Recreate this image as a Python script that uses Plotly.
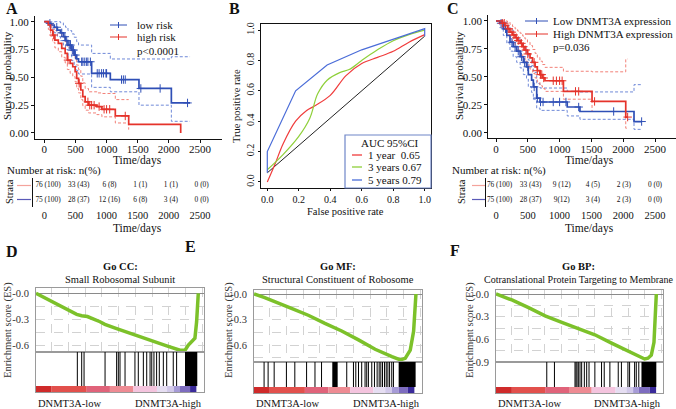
import plotly.graph_objects as go
import numpy as np

W, H = 676, 409
SERIF = "Liberation Serif, DejaVu Serif, Times New Roman, serif"

# ================= DATA =================
# ---- Panel A: KM by risk group ----
A_low_t  = [0, 60, 110, 160, 210, 260, 306, 340, 380, 440, 480, 520, 550, 760, 1060, 1520, 2040, 2340]
A_low_s  = [1.0, 0.985, 0.97, 0.95, 0.925, 0.90, 0.865, 0.83, 0.79, 0.745, 0.70, 0.665, 0.64, 0.536, 0.48, 0.40, 0.27, 0.27]
A_low_up = [1.0, 1.0, 1.0, 1.0, 1.0, 0.99, 0.97, 0.95, 0.92, 0.89, 0.86, 0.82, 0.79, 0.715, 0.665, 0.665, 0.685, 0.685]
A_low_lo = [1.0, 0.96, 0.935, 0.90, 0.865, 0.83, 0.79, 0.75, 0.70, 0.65, 0.60, 0.56, 0.53, 0.41, 0.37, 0.25, 0.105, 0.105]
A_low_cens = [90, 200, 280, 330, 360, 400, 420, 450, 470, 500, 600, 620, 650, 680, 700, 740, 850, 880, 920, 950, 990, 1000, 1240, 1270, 1300, 1550, 1860, 2300]

A_high_t  = [0, 65, 100, 135, 170, 225, 280, 335, 370, 415, 457, 495, 520, 550, 586, 618, 656, 710, 844, 925, 1140, 1355, 2190]
A_high_s  = [1.0, 0.97, 0.925, 0.88, 0.835, 0.805, 0.76, 0.715, 0.655, 0.625, 0.595, 0.55, 0.49, 0.446, 0.386, 0.326, 0.28, 0.25, 0.237, 0.213, 0.153, 0.078, 0.0]
A_high_up = [1.0, 1.0, 0.985, 0.955, 0.92, 0.90, 0.86, 0.82, 0.77, 0.74, 0.71, 0.67, 0.61, 0.57, 0.51, 0.45, 0.40, 0.37, 0.36, 0.355, 0.30, 0.30, None]
A_high_lo = [1.0, 0.93, 0.87, 0.815, 0.765, 0.73, 0.68, 0.63, 0.57, 0.535, 0.505, 0.46, 0.40, 0.36, 0.30, 0.245, 0.205, 0.18, 0.165, 0.145, 0.09, 0.03, None]
A_high_cens = [150, 380, 560, 700, 730, 760, 800, 880, 960, 1000, 1050, 1300]

risk_times = [0, 500, 1000, 1500, 2000, 2500]
A_risk_high = ["76 (100)", "33 (43)", "6 (8)", "1 (1)", "1 (1)", "0 (0)"]
A_risk_low  = ["75 (100)", "28 (37)", "12 (16)", "6 (8)", "3 (4)", "0 (0)"]

# ---- Panel B: time-dependent ROC ----
B_fpr_1y = [0, 0.05, 0.1, 0.18, 0.25, 0.3, 0.4, 0.5, 0.6, 0.7, 0.8, 0.9, 1.0]
B_tpr_1y = [0.0, 0.12, 0.25, 0.40, 0.47, 0.50, 0.57, 0.70, 0.78, 0.82, 0.86, 0.92, 0.97]
B_fpr_3y = [0, 0.1, 0.2, 0.27, 0.32, 0.38, 0.46, 0.52, 0.6, 0.7, 0.8, 0.9, 1.0]
B_tpr_3y = [0.08, 0.18, 0.30, 0.42, 0.58, 0.67, 0.72, 0.74, 0.80, 0.87, 0.93, 0.97, 1.0]
B_fpr_5y = [0, 0, 0.18, 0.38, 0.6, 0.8, 1.0, 1.0]
B_tpr_5y = [0.06, 0.20, 0.60, 0.77, 0.87, 0.94, 1.01, 0.96]
B_ref_x = [0, 1.0]
B_ref_y = [0.06, 0.96]
B_legend = ["1 year\u00a0\u00a00.65", "3 years 0.67", "5 years 0.79"]

# ---- Panel C: KM by DNMT3A expression ----
C_low_t  = [0, 60, 115, 170, 220, 270, 325, 380, 430, 480, 508, 560, 587, 640, 692, 1120, 1320, 2170, 2290]
C_low_s  = [1.0, 0.98, 0.93, 0.87, 0.81, 0.77, 0.73, 0.68, 0.63, 0.59, 0.52, 0.47, 0.41, 0.31, 0.275, 0.23, 0.19, 0.10, 0.10]
C_low_up = [1.0, 1.0, 0.99, 0.96, 0.92, 0.88, 0.84, 0.80, 0.76, 0.71, 0.65, 0.60, 0.54, 0.44, 0.40, 0.37, 0.365, 0.43, 0.43]
C_low_lo = [1.0, 0.94, 0.87, 0.80, 0.73, 0.68, 0.63, 0.58, 0.52, 0.48, 0.41, 0.36, 0.30, 0.22, 0.20, 0.15, 0.12, 0.03, 0.03]
C_low_cens = [80, 150, 250, 300, 350, 400, 450, 500, 600, 650, 700, 740, 900, 1000, 1100, 1300, 1850, 2290]

C_high_t  = [0, 100, 140, 180, 220, 260, 300, 340, 380, 420, 455, 495, 535, 575, 615, 650, 690, 730, 770, 1060, 1510, 2040, 2070]
C_high_s  = [1.0, 0.98, 0.96, 0.93, 0.90, 0.875, 0.85, 0.825, 0.80, 0.77, 0.74, 0.705, 0.67, 0.63, 0.59, 0.555, 0.52, 0.49, 0.465, 0.37, 0.28, 0.14, 0.14]
C_high_up = [1.0, 1.0, 1.0, 0.99, 0.97, 0.95, 0.93, 0.91, 0.89, 0.865, 0.84, 0.81, 0.78, 0.745, 0.71, 0.675, 0.64, 0.61, 0.585, 0.55, 0.545, 0.66, 0.66]
C_high_lo = [1.0, 0.95, 0.92, 0.88, 0.84, 0.805, 0.77, 0.74, 0.71, 0.675, 0.64, 0.605, 0.57, 0.53, 0.49, 0.455, 0.42, 0.395, 0.37, 0.30, 0.19, 0.04, 0.04]
C_high_cens = [100, 130, 200, 250, 280, 320, 350, 400, 430, 470, 500, 600, 650, 700, 720, 750, 900, 950, 1000, 1040, 1250, 1300, 1550, 2070]

C_risk_high = ["76 (100)", "33 (43)", "9 (12)", "4 (5)", "2 (3)", "0 (0)"]
C_risk_low  = ["75 (100)", "28 (37)", "9(12)", "3 (4)", "2 (3)", "0 (0)"]

# ---- Panels D/E/F: GSEA running enrichment score ----
D_rank = [0, 0.242, 0.272, 0.306, 0.381, 0.41, 0.48, 0.579, 0.679, 0.778, 0.857, 0.887, 0.907, 0.927, 0.946, 0.956, 0.966]
D_es   = [0, -0.244, -0.26, -0.27, -0.33, -0.36, -0.41, -0.48, -0.54, -0.61, -0.66, -0.66, -0.60, -0.56, -0.52, -0.33, 0.0]
D_hits = [0.246, 0.272, 0.286, 0.411, 0.480, 0.490, 0.500, 0.530, 0.589, 0.609, 0.639, 0.659, 0.679, 0.689,
          0.702, 0.718, 0.734, 0.758, 0.778, 0.817, 0.837]
D_blocks = [(0.887, 0.960)]

E_rank = [0, 0.064, 0.223, 0.323, 0.422, 0.522, 0.622, 0.721, 0.821, 0.871, 0.90, 0.93, 0.95, 0.96, 0.964]
E_es   = [0, -0.043, -0.17, -0.25, -0.345, -0.435, -0.54, -0.65, -0.737, -0.776, -0.757, -0.66, -0.44, -0.17, 0.0]
E_hits = [0.06, 0.084, 0.12, 0.193, 0.243, 0.313, 0.363, 0.402, 0.552, 0.592, 0.606, 0.622, 0.641, 0.661,
          0.671, 0.681, 0.701, 0.717, 0.733, 0.745, 0.755, 0.765, 0.777, 0.787, 0.797, 0.807, 0.82, 0.83]
E_blocks = [(0.466, 0.498), (0.861, 0.962)]

F_rank = [0, 0.095, 0.195, 0.294, 0.394, 0.473, 0.533, 0.592, 0.692, 0.791, 0.851, 0.89, 0.91, 0.93, 0.946, 0.954, 0.96]
F_es   = [0, -0.079, -0.18, -0.29, -0.375, -0.44, -0.48, -0.54, -0.65, -0.76, -0.825, -0.86, -0.85, -0.81, -0.64, -0.28, 0.0]
F_hits = [0.304, 0.35, 0.473, 0.479, 0.485, 0.493, 0.503, 0.513, 0.529, 0.543, 0.557, 0.592, 0.632, 0.648,
          0.682, 0.732, 0.751, 0.79, 0.80, 0.83, 0.84, 0.855]
F_blocks = [(0.871, 0.96)]

GSEA_colors = ['#cf2a2a', '#e2504c', '#e0637a', '#ee8b93', '#f4c4de', '#e6def2', '#d2c9ea', '#a69bd6', '#7d6cbf', '#3a2a9a', '#ffffff']
D_bar_edges = [0, 0.093, 0.302, 0.44, 0.58, 0.72, 0.78, 0.82, 0.857, 0.917, 0.956, 1.0]
E_bar_edges = [0, 0.094, 0.303, 0.442, 0.572, 0.711, 0.781, 0.821, 0.861, 0.916, 0.956, 1.0]
F_bar_edges = [0, 0.095, 0.294, 0.437, 0.573, 0.716, 0.781, 0.821, 0.855, 0.92, 0.96, 1.0]

# ================= STYLE =================
BLUE, RED = '#2f4fb6', '#e5332b'
BLUE_CI, RED_CI = '#6f89d8', '#f28078'
GREEN = '#7cc12a'
INK = '#111111'


def xdom(a, b):
    return [a / W, b / W]


def ydom(top, bottom):
    return [1 - bottom / H, 1 - top / H]


def prange(p_left, p_right, p_zero, px_per_unit):
    """axis range so that value 0 sits at pixel p_zero on a domain spanning p_left..p_right"""
    return [-(p_zero - p_left) / px_per_unit, (p_right - p_zero) / px_per_unit]


fig = go.Figure()
layout_axes = {}


def add_axes(n, xd, yd, xkw, ykw):
    xk = 'xaxis' if n == 1 else f'xaxis{n}'
    yk = 'yaxis' if n == 1 else f'yaxis{n}'
    ax = 'x' if n == 1 else f'x{n}'
    ay = 'y' if n == 1 else f'y{n}'
    base = dict(showgrid=False, zeroline=False, automargin=False, fixedrange=True)
    layout_axes[xk] = {**base, 'domain': xd, 'anchor': ay, **xkw}
    layout_axes[yk] = {**base, 'domain': yd, 'anchor': ax, **ykw}


def add(tr, n, xname=None):
    xa = xname if xname else ('x' if n == 1 else f'x{n}')
    tr.update(xaxis=xa, yaxis=('y' if n == 1 else f'y{n}'), hoverinfo='skip')
    fig.add_trace(tr)


def step_lookup(ts, ss, times):
    ts = np.asarray(ts, float)
    out = []
    for t in times:
        i = int(np.searchsorted(ts, t, side='right')) - 1
        out.append(ss[max(i, 0)])
    return out


tickfont = dict(family=SERIF, size=11, color=INK)
table_tickfont = dict(family=SERIF, size=10.5, color=INK)
risk_font = dict(family=SERIF, size=7.4, color=INK)

# ---------- Panel A ----------
A_PX = (200 - 44.3) / 2500
a_x = dict(range=prange(35, 222, 44.3, A_PX), showline=True, linecolor=INK, linewidth=1, ticks='outside',
           ticklen=3, tickcolor=INK, tickvals=risk_times, tickfont=tickfont, ticklabelstandoff=-3)
add_axes(1, xdom(35, 222), ydom(16, 139), a_x,
         dict(range=[-0.054, 1.051], showline=True, linecolor=INK, linewidth=1, ticks='outside', ticklen=3,
              tickcolor=INK, tickvals=[0, 0.25, 0.5, 0.75, 1.0],
              ticktext=['0.00', '0.25', '0.50', '0.75', '1.00'], tickfont=tickfont))

for t, up, lo, col in [(A_low_t, A_low_up, A_low_lo, BLUE_CI), (A_high_t, A_high_up, A_high_lo, RED_CI)]:
    for band in (up, lo):
        add(go.Scatter(x=t, y=band, mode='lines', line=dict(color=col, width=1, dash='3px,2px', shape='hv')), 1)
for t, s, cens, col in [(A_low_t, A_low_s, A_low_cens, BLUE), (A_high_t, A_high_s, A_high_cens, RED)]:
    add(go.Scatter(x=t, y=s, mode='lines', line=dict(color=col, width=1.7, shape='hv')), 1)
    add(go.Scatter(x=cens, y=step_lookup(t, s, cens), mode='markers',
                   marker=dict(symbol='cross-thin', size=6, line=dict(color=col, width=1))), 1)

# risk table A (text axis + overlaid tick axis)
add_axes(2, xdom(33, 222), ydom(178, 207),
         dict(range=prange(33, 222, 48, (201.7 - 48) / 2500), showline=False, ticks='', showticklabels=False),
         dict(range=[0.5, 2.5], showline=True, linecolor=INK, linewidth=1, showticklabels=False, ticks=''))
layout_axes['xaxis12'] = dict(overlaying='x2', anchor='y2', range=prange(33, 222, 44.3, A_PX),
                              showline=False, ticks='', tickvals=risk_times, tickfont=table_tickfont,
                              showgrid=False, zeroline=False, automargin=False, fixedrange=True)
add(go.Scatter(x=risk_times, y=[2] * 6, mode='text', text=A_risk_high, textfont=risk_font), 2)
add(go.Scatter(x=risk_times, y=[1] * 6, mode='text', text=A_risk_low, textfont=risk_font), 2)
# invisible carrier trace so the overlaid tick axis is drawn
add(go.Scatter(x=risk_times, y=[0] * 6, mode='markers', marker=dict(opacity=0)), 2, xname='x12')

# ---------- Panel B ----------
b_common = dict(range=[-0.04, 1.04], showline=True, mirror=True, linecolor=INK, linewidth=1,
                ticks='outside', ticklen=2, tickcolor=INK, tickvals=[0, 0.2, 0.4, 0.6, 0.8, 1.0],
                ticktext=['0.0', '0.2', '0.4', '0.6', '0.8', '1.0'],
                tickfont=dict(family=SERIF, size=10, color=INK))
add_axes(3, xdom(261, 431), ydom(24, 188), dict(b_common), dict(b_common, tickangle=-90))
add(go.Scatter(x=B_ref_x, y=B_ref_y, mode='lines', line=dict(color='#222222', width=1)), 3)
add(go.Scatter(x=B_fpr_1y, y=B_tpr_1y, mode='lines', line=dict(color='#f03c3c', width=1.2, shape='spline')), 3)
add(go.Scatter(x=B_fpr_3y, y=B_tpr_3y, mode='lines', line=dict(color='#8fd03a', width=1.2, shape='spline')), 3)
add(go.Scatter(x=B_fpr_5y, y=B_tpr_5y, mode='lines', line=dict(color='#4a6cd8', width=1.2)), 3)

# ---------- Panel C ----------
C_PX = (655 - 496) / 2500
add_axes(4, xdom(488.3, 676), ydom(15.4, 138.3),
         dict(a_x, range=prange(488.3, 676, 496, C_PX)),
         dict(range=[-0.05, 1.05], showline=True, linecolor=INK, linewidth=1, ticks='outside', ticklen=3,
              tickcolor=INK, tickvals=[0, 0.25, 0.5, 0.75, 1.0],
              ticktext=['0.00', '0.25', '0.50', '0.75', '1.00'], tickfont=tickfont))
for t, up, lo, col in [(C_low_t, C_low_up, C_low_lo, BLUE_CI), (C_high_t, C_high_up, C_high_lo, RED_CI)]:
    for band in (up, lo):
        add(go.Scatter(x=t, y=band, mode='lines', line=dict(color=col, width=1, dash='3px,2px', shape='hv')), 4)
for t, s, cens, col in [(C_low_t, C_low_s, C_low_cens, BLUE), (C_high_t, C_high_s, C_high_cens, RED)]:
    add(go.Scatter(x=t, y=s, mode='lines', line=dict(color=col, width=1.7, shape='hv')), 4)
    add(go.Scatter(x=cens, y=step_lookup(t, s, cens), mode='markers',
                   marker=dict(symbol='cross-thin', size=6, line=dict(color=col, width=1))), 4)

add_axes(5, xdom(486, 676), ydom(178, 207),
         dict(range=prange(486, 676, 499.5, (655 - 499.5) / 2500), showline=False, ticks='', showticklabels=False),
         dict(range=[0.5, 2.5], showline=True, linecolor=INK, linewidth=1, showticklabels=False, ticks=''))
layout_axes['xaxis13'] = dict(overlaying='x5', anchor='y5', range=prange(486, 676, 496, C_PX),
                              showline=False, ticks='', tickvals=risk_times, tickfont=table_tickfont,
                              showgrid=False, zeroline=False, automargin=False, fixedrange=True)
add(go.Scatter(x=risk_times, y=[2] * 6, mode='text', text=C_risk_high, textfont=risk_font), 5)
add(go.Scatter(x=risk_times, y=[1] * 6, mode='text', text=C_risk_low, textfont=risk_font), 5)
add(go.Scatter(x=risk_times, y=[0] * 6, mode='markers', marker=dict(opacity=0)), 5, xname='x13')

# ---------- Panels D/E/F ----------
GRID = '#d2d2d2'
FRAME = '#9a9a9a'
es_font = dict(family=SERIF, size=10.5, color='#333333')


def gsea_panel(n_es, n_hit, x0, x1, es_top, es_bot, bar_bot, yrange, yt, ytt,
               rank, es, hits, blocks, edges, bar_px=6):
    xd = xdom(x0, x1)
    add_axes(n_es, xd, ydom(es_top, es_bot),
             dict(range=[0, 1], showline=True, mirror=True, linecolor=FRAME, linewidth=1,
                  showgrid=True, gridcolor=GRID, griddash='dash', gridwidth=1,
                  tick0=0.094, dtick=0.0995, showticklabels=False, ticks=''),
             dict(range=yrange, showline=True, mirror=True, linecolor=FRAME, linewidth=1,
                  showgrid=True, gridcolor=GRID, griddash='dash', gridwidth=1,
                  zeroline=True, zerolinecolor='#8a8a8a', zerolinewidth=1,
                  tickvals=yt, ticktext=ytt, ticks='', ticklabelstandoff=4, tickfont=es_font))
    add_axes(n_hit, xd, ydom(es_bot, bar_bot),
             dict(range=[0, 1], showline=True, mirror=True, linecolor=FRAME, linewidth=1,
                  showticklabels=False, ticks=''),
             dict(range=[0, 1], showline=True, mirror=True, linecolor=FRAME, linewidth=1,
                  showticklabels=False, ticks=''))
    bar_top = bar_px / (bar_bot - es_bot)
    add(go.Scatter(x=rank, y=es, mode='lines', line=dict(color=GREEN, width=3.5)), n_es)
    hx, hy = [], []
    for h in hits:
        hx += [h, h, None]
        hy += [bar_top, 1, None]
    add(go.Scatter(x=hx, y=hy, mode='lines', line=dict(color='black', width=1)), n_hit)
    add(go.Bar(x=[(a + b) / 2 for a, b in blocks], width=[b - a for a, b in blocks],
               y=[1 - bar_top] * len(blocks), base=[bar_top] * len(blocks),
               marker=dict(color='black', line=dict(width=0))), n_hit)
    mids = [(edges[i] + edges[i + 1]) / 2 for i in range(len(edges) - 1)]
    wids = [edges[i + 1] - edges[i] for i in range(len(edges) - 1)]
    add(go.Bar(x=mids, width=wids, y=[bar_top] * len(mids), base=[0] * len(mids),
               marker=dict(color=GSEA_colors, line=dict(width=0))), n_hit)


gsea_panel(6, 7, 36, 204, 288, 352, 392, [-0.681, 0.0615],
           [0, -0.15, -0.3, -0.45, -0.6], ['-0.0', '', '-0.3', '', '-0.6'],
           D_rank, D_es, D_hits, D_blocks, D_bar_edges)
gsea_panel(8, 9, 254, 422, 290, 362, 393, [-0.80, 0.047],
           [0, -0.15, -0.3, -0.45, -0.6, -0.75], ['-0.0', '', '-0.3', '', '-0.6', ''],
           E_rank, E_es, E_hits, E_blocks, E_bar_edges)
gsea_panel(10, 11, 496, 663, 290, 362, 393, [-0.9, 0.053],
           [0, -0.15, -0.3, -0.45, -0.6, -0.75, -0.9], ['-0.0', '', '-0.3', '', '-0.6', '', '-0.9'],
           F_rank, F_es, F_hits, F_blocks, F_bar_edges)

# ================= ANNOTATIONS & SHAPES =================
ann = []
shapes = []


def txt(x, y, s, size=11, xa='center', angle=0, color=INK):
    ann.append(dict(x=x / W, y=1 - y / H, xref='paper', yref='paper', text=s, showarrow=False,
                    xanchor=xa, yanchor='middle', textangle=angle,
                    font=dict(family=SERIF, size=size, color=color)))


def seg(x0, y0, x1, y1, color, width=1):
    shapes.append(dict(type='line', xref='paper', yref='paper', x0=x0 / W, y0=1 - y0 / H,
                       x1=x1 / W, y1=1 - y1 / H, line=dict(color=color, width=width)))


# panel letters
txt(12, 8.5, '<b>A</b>', 16)
txt(234, 8.5, '<b>B</b>', 16)
txt(453, 8.5, '<b>C</b>', 16)
txt(12, 251, '<b>D</b>', 16)
txt(190, 247, '<b>E</b>', 16)
txt(455, 250, '<b>F</b>', 16)

# A texts
txt(7, 76, 'Survival probability', 11, angle=-90)
txt(137, 160, 'Time/days', 11.5)
txt(5, 170, 'Number at risk: n(%)', 11, xa='left')
txt(10, 192, 'Strata', 10.5, angle=-90)
seg(17, 185.5, 31, 185.5, '#f4a39c', 1.2)
seg(17, 199.5, 31, 199.5, '#5a5ab8', 1.2)
txt(137, 228, 'Time/days', 11.5)
seg(110, 25, 127, 25, BLUE, 1)
seg(118.5, 22, 118.5, 28, BLUE, 1)
seg(110, 37, 127, 37, RED, 1)
seg(118.5, 34, 118.5, 40, RED, 1)
txt(135, 25, 'low risk', 11, xa='left')
txt(135, 37.5, 'high risk', 11, xa='left')
txt(135, 51, 'p&lt;0.0001', 11, xa='left')

# B texts
txt(237, 106, 'True positive rate', 10.5, angle=-90)
txt(346, 212, 'False positive rate', 10.5)
shapes.append(dict(type='rect', xref='paper', yref='paper', x0=345 / W, x1=431 / W,
                   y0=1 - 188 / H, y1=1 - 135 / H, line=dict(color='#6f86c8', width=1.2),
                   fillcolor='rgba(255,255,255,0)'))
txt(390, 143.5, 'AUC 95%CI', 11)
for yy, col, lab in [(155, '#f03c3c', B_legend[0]), (167, '#8fd03a', B_legend[1]), (180, '#4a6cd8', B_legend[2])]:
    seg(352, yy, 362, yy, col, 1.3)
    txt(366, yy, lab, 11, xa='left')

# C texts
txt(459, 76, 'Survival probability', 11, angle=-90)
txt(589, 160, 'Time/days', 11.5)
txt(450, 170, 'Number at risk: n(%)', 11, xa='left')
txt(462, 192, 'Strata', 10.5, angle=-90)
seg(472, 185.5, 485, 185.5, '#f4a39c', 1.2)
seg(472, 199.5, 485, 199.5, '#5a5ab8', 1.2)
txt(589, 228, 'Time/days', 11.5)
seg(525, 21, 548, 21, BLUE, 1)
seg(536.5, 18, 536.5, 24, BLUE, 1)
seg(525, 34, 548, 34, RED, 1)
seg(536.5, 31, 536.5, 37, RED, 1)
txt(551, 21, 'Low DNMT3A expression', 11, xa='left')
txt(551, 34, 'High DNMT3A expression', 11, xa='left')
txt(551, 47, 'p=0.036', 11, xa='left')

# D/E/F texts
for cx, t1, t2, size2, ylab_x, x0, x1 in [
        (120, 'Go CC:', 'Small Robosomal Subunit', 10.5, 8, 36, 204),
        (338, 'Go MF:', 'Structural Constituent of Robosome', 10.5, 229, 254, 422),
        (578, 'Go BP:', 'Cotranslational Protein Targeting to Membrane', 10, 470, 496, 663)]:
    txt(cx, 266.5, '<b>' + t1 + '</b>', 10.5)
    txt(cx, 279.5, t2, size2)
    txt(ylab_x, 330, 'Enrichment score (ES)', 10.5, angle=-90, color='#333333')
    txt(x0, 403, 'DNMT3A-low', 10.5, xa='left')
    txt(x1, 403, 'DNMT3A-high', 10.5, xa='right')

fig.update_layout(
    width=W, height=H, margin=dict(l=0, r=0, t=0, b=0),
    paper_bgcolor='white', plot_bgcolor='white', showlegend=False,
    barmode='overlay', font=dict(family=SERIF, color=INK),
    annotations=ann, shapes=shapes, **layout_axes)

fig.write_html("out.html", config={'displayModeBar': False, 'staticPlot': True},
               post_script="document.body.style.margin='0px';document.body.style.padding='0px';")
